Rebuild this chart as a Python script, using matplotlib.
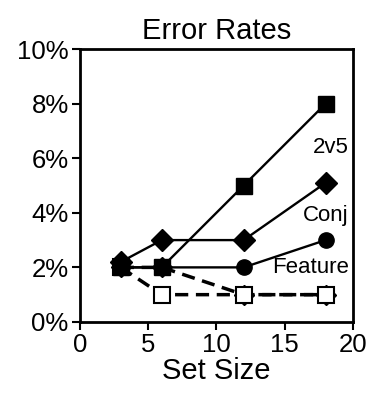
import matplotlib
matplotlib.use('Agg')
import matplotlib.pyplot as plt

plt.rcParams['font.family'] = ['Liberation Sans', 'DejaVu Sans']

set_size = [3, 6, 12, 18]
err_2v5 = [2, 2, 5, 8]
err_conj = [2.2, 3, 3, 5.1]
err_feature = [2, 2, 2, 3]
err_dash_diamond = [2, 2, 1, 1]
err_dash_square = [2, 1, 1, 1]

labels = ['2v5', 'Conj', 'Feature']
label_y = [6.4, 3.9, 2.0]
yticks = [0, 2, 4, 6, 8, 10]
xticks = [0, 5, 10, 15, 20]

fig = plt.figure(figsize=(3.68, 3.96), dpi=100)
ax = fig.add_axes([0.217, 0.187, 0.742, 0.689])

ax.plot(set_size, err_dash_diamond, color='black', lw=2.5, ls=(0, (3.8, 2.2)),
        marker='D', ms=10, mfc='black', mec='black', zorder=3)
ax.plot(set_size, err_dash_square, color='black', lw=2.5, ls=(0, (3.8, 2.2)),
        marker='s', ms=11, mfc='white', mec='black', mew=1.5, zorder=4)
ax.plot(set_size, err_feature, color='black', lw=1.7, marker='o', ms=11, zorder=5)
ax.plot(set_size, err_conj, color='black', lw=1.7, marker='D', ms=11.5, zorder=5)
ax.plot(set_size, err_2v5, color='black', lw=1.7, marker='s', ms=12, zorder=6)

for lab, ly in zip(labels, label_y):
    ax.text(19.7, ly, lab, ha='right', va='center', fontsize=16)

ax.set_xlim(0, 20)
ax.set_ylim(0, 10)
ax.set_xticks(xticks)
ax.set_yticks(yticks)
ax.set_yticklabels([f'{v}%' for v in yticks])
ax.tick_params(labelsize=18.5, width=1.5, length=6, direction='out', pad=2)
for s in ax.spines.values():
    s.set_linewidth(2)
ax.set_title('Error Rates', fontsize=21, pad=7)
ax.set_xlabel('Set Size', fontsize=21, labelpad=0)

fig.savefig('out.png', dpi=100)
